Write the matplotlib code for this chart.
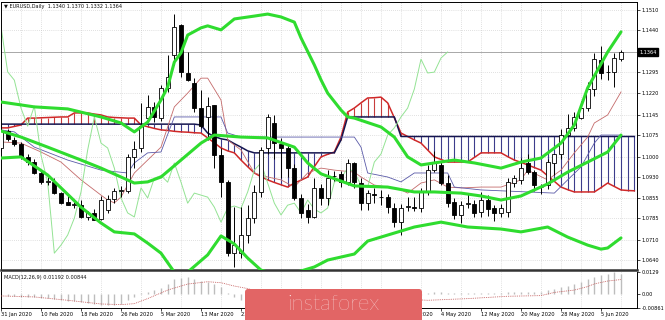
import matplotlib
matplotlib.use("Agg")
import matplotlib.pyplot as plt
from matplotlib.patches import FancyBboxPatch

plt.rcParams["font.family"] = ["DejaVu Sans"]

# EURUSD daily candles, 31 Jan 2020 .. 10 Jun 2020 (one entry per bar)
opens = [1.1030, 1.1088, 1.1058, 1.1044, 1.0998, 1.0981, 1.0944, 1.0910, 1.0913, 1.0873,
         1.0841, 1.0833, 1.0831, 1.0790, 1.0804, 1.0783, 1.0815, 1.0852, 1.0880, 1.0880,
         1.0998, 1.1030, 1.1134, 1.1172, 1.1135, 1.1239, 1.1353, 1.1458, 1.1292, 1.1256,
         1.1169, 1.1138, 1.1179, 1.1005, 1.0911, 1.0664, 1.0664, 1.0727, 1.0786, 1.0877,
         1.1030, 1.1117, 1.1043, 1.1030, 1.0960, 1.0856, 1.0814, 1.0790, 1.0891, 1.0856,
         1.0932, 1.0939, 1.0911, 1.0978, 1.0908, 1.0838, 1.0870, 1.0859, 1.0859, 1.0821,
         1.0772, 1.0824, 1.0825, 1.0821, 1.0877, 1.0953, 1.0971, 1.0908, 1.0842, 1.0797,
         1.0835, 1.0835, 1.0807, 1.0849, 1.0821, 1.0804, 1.0807, 1.0908, 1.0918, 1.0978,
         1.0946, 1.0895, 1.0901, 1.0978, 1.1009, 1.1075, 1.1100, 1.1134, 1.1169, 1.1235,
         1.1336, 1.1294, 1.1294, 1.1340]
highs = [1.1096, 1.1095, 1.1067, 1.1052, 1.1010, 1.0990, 1.0950, 1.0930, 1.0924, 1.0877,
         1.0862, 1.0841, 1.0848, 1.0812, 1.0817, 1.0863, 1.0868, 1.0891, 1.0898, 1.1010,
         1.1053, 1.1185, 1.1214, 1.1189, 1.1248, 1.1355, 1.1496, 1.1460, 1.1365, 1.1273,
         1.1232, 1.1207, 1.1180, 1.1030, 1.0920, 1.0824, 1.0824, 1.0830, 1.0900, 1.1035,
         1.1147, 1.1145, 1.1065, 1.1045, 1.0975, 1.0870, 1.0835, 1.0925, 1.0905, 1.0953,
         1.0950, 1.0950, 1.0990, 1.0980, 1.0925, 1.0885, 1.0890, 1.0885, 1.0870, 1.0840,
         1.0835, 1.0860, 1.0858, 1.0890, 1.0972, 1.1019, 1.0985, 1.0935, 1.0855, 1.0845,
         1.0875, 1.0850, 1.0877, 1.0865, 1.0832, 1.0835, 1.0925, 1.0935, 1.0995, 1.1010,
         1.0955, 1.0905, 1.0990, 1.1010, 1.1095, 1.1147, 1.1155, 1.1195, 1.1258, 1.1361,
         1.1384, 1.1320, 1.1360, 1.1370]
lows = [1.1019, 1.1056, 1.1038, 1.0993, 1.0972, 1.0941, 1.0905, 1.0900, 1.0870, 1.0835,
        1.0830, 1.0822, 1.0788, 1.0781, 1.0778, 1.0780, 1.0805, 1.0840, 1.0860, 1.0875,
        1.0960, 1.1015, 1.1120, 1.1120, 1.1125, 1.1225, 1.1320, 1.1278, 1.1262, 1.1155,
        1.1100, 1.1058, 1.0960, 1.0859, 1.0655, 1.0616, 1.0647, 1.0700, 1.0770, 1.0860,
        1.1010, 1.0990, 1.0925, 1.0930, 1.0850, 1.0785, 1.0770, 1.0785, 1.0830, 1.0830,
        1.0915, 1.0895, 1.0900, 1.0890, 1.0815, 1.0815, 1.0840, 1.0830, 1.0805, 1.0755,
        1.0728, 1.0810, 1.0810, 1.0808, 1.0865, 1.0945, 1.0900, 1.0825, 1.0782, 1.0770,
        1.0820, 1.0790, 1.0790, 1.0795, 1.0775, 1.0790, 1.0790, 1.0895, 1.0905, 1.0940,
        1.0880, 1.0870, 1.0886, 1.0935, 1.0990, 1.1070, 1.1090, 1.1130, 1.1160, 1.1210,
        1.1270, 1.1265, 1.1242, 1.1332]
closes = [1.1088, 1.1060, 1.1044, 1.0998, 1.0981, 1.0944, 1.0911, 1.0914, 1.0873, 1.0839,
          1.0831, 1.0836, 1.0790, 1.0804, 1.0780, 1.0849, 1.0852, 1.0880, 1.0884, 1.0998,
          1.1026, 1.1106, 1.1172, 1.1138, 1.1240, 1.1277, 1.1452, 1.1295, 1.1266, 1.1169,
          1.1106, 1.1176, 1.1005, 1.0911, 1.0664, 1.0692, 1.0727, 1.0786, 1.0877, 1.1023,
          1.1138, 1.1047, 1.1030, 1.0960, 1.0856, 1.0804, 1.0790, 1.0891, 1.0856, 1.0925,
          1.0934, 1.0911, 1.0978, 1.0911, 1.0838, 1.0873, 1.0866, 1.0859, 1.0824, 1.0772,
          1.0821, 1.0828, 1.0820, 1.0877, 1.0953, 1.0978, 1.0908, 1.0838, 1.0797, 1.0831,
          1.0838, 1.0804, 1.0849, 1.0817, 1.0804, 1.0821, 1.0911, 1.0925, 1.0960, 1.0946,
          1.0901, 1.0894, 1.0981, 1.1009, 1.1075, 1.1100, 1.1138, 1.1169, 1.1235, 1.1339,
          1.1291, 1.1294, 1.1343, 1.1364]

# date labels that are not hidden behind the watermark
date_bars = [0, 6, 12, 18, 24, 30, 36, 60, 66, 72, 78, 84, 90]
date_labels = ["31 Jan 2020", "10 Feb 2020", "18 Feb 2020", "26 Feb 2020", "5 Mar 2020",
               "13 Mar 2020", "23 Mar 2020", "24 Apr 2020", "4 May 2020", "12 May 2020",
               "20 May 2020", "28 May 2020", "5 Jun 2020"]
price_ticks = [1.1510, 1.1440, 1.1295, 1.1220, 1.1145, 1.1075, 1.1000,
               1.0930, 1.0855, 1.0785, 1.0710, 1.0640]

bb_upper_bars = [0, 5, 10, 15, 18, 20, 22, 24, 25, 26, 27, 28, 30, 31, 33, 35, 38, 40, 42, 44,
                 45, 47, 48, 49, 51, 52, 53, 57, 59, 61, 63, 65, 68, 71, 75, 78, 81, 84, 86,
                 88, 91, 93]
bb_upper = [1.1190, 1.1173, 1.1166, 1.1138, 1.1117, 1.1086, 1.1120, 1.1197, 1.1242, 1.1329,
            1.1361, 1.1423, 1.1448, 1.1455, 1.1441, 1.1479, 1.1489, 1.1496, 1.1486, 1.1468,
            1.1413, 1.1319, 1.1267, 1.1221, 1.1162, 1.1138, 1.1134, 1.1103, 1.1068, 1.0999,
            1.0971, 1.0978, 1.0988, 1.0978, 1.0960, 1.0981, 1.0995, 1.1047, 1.1110, 1.1239,
            1.1364, 1.1434]
bb_mid_bars = [0, 3, 7, 12, 15, 18, 20, 22, 24, 27, 30, 32, 36, 40, 44, 46, 48, 53, 58, 62,
               65, 69, 72, 75, 78, 82, 85, 88, 91, 93]
bb_mid = [1.1089, 1.1068, 1.1033, 1.0988, 1.0960, 1.0929, 1.0908, 1.0912, 1.0929, 1.0988,
          1.1047, 1.1075, 1.1068, 1.1065, 1.1033, 1.0978, 1.0940, 1.0898, 1.0894, 1.0877,
          1.0877, 1.0873, 1.0863, 1.0849, 1.0863, 1.0905, 1.0946, 1.0981, 1.1016, 1.1075]
bb_lower_bars = [0, 3, 7, 12, 15, 17, 20, 22, 24, 26, 27, 28, 31, 33, 35, 37, 39, 42, 45, 47,
                 49, 53, 55, 59, 62, 66, 70, 75, 78, 82, 85, 88, 90, 91, 93]
bb_lower = [1.0995, 1.0999, 1.0936, 1.0824, 1.0769, 1.0738, 1.0731, 1.0699, 1.0664, 1.0598,
            1.0553, 1.0598, 1.0658, 1.0724, 1.0696, 1.0647, 1.0605, 1.0585, 1.0602, 1.0616,
            1.0640, 1.0661, 1.0706, 1.0734, 1.0755, 1.0772, 1.0755, 1.0748, 1.0738, 1.0755,
            1.0720, 1.0692, 1.0678, 1.0682, 1.0717]

# Ichimoku lines
tenkan_bars = [0, 3, 6, 9, 12, 15, 16, 17, 18, 20, 22, 24, 26, 28, 30, 31, 33, 34, 36, 38,
               40, 42, 44, 46, 48, 50, 53, 54, 56, 58, 60, 61, 63, 65, 67, 69, 72, 75, 78,
               79, 82, 84, 86, 88, 89, 91, 93]
tenkan = [1.1051, 1.1047, 1.1016, 1.0981, 1.0919, 1.0866, 1.0849, 1.0839, 1.0859, 1.0943,
          1.0988, 1.1033, 1.1173, 1.1221, 1.1273, 1.1273, 1.1197, 1.1058, 1.1023, 1.0943,
          1.0929, 1.0919, 1.0894, 1.0943, 1.0960, 1.0953, 1.0946, 1.0929, 1.0901, 1.0894,
          1.0884, 1.0873, 1.0908, 1.0919, 1.0894, 1.0891, 1.0894, 1.0894, 1.0919, 1.0953,
          1.0919, 1.0953, 1.1013, 1.1068, 1.1117, 1.1145, 1.1225]
kijun_bars = [0, 2, 5, 10, 15, 19, 20, 22, 24, 26, 33, 34, 36, 53, 54, 55, 58, 60, 62, 67,
              68, 72, 83, 85, 87, 89, 90, 93]
kijun = [1.1093, 1.1086, 1.1033, 1.0988, 1.0953, 1.0943, 1.0978, 1.1013, 1.1016, 1.1138,
         1.1138, 1.1082, 1.1068, 1.1068, 1.1033, 1.0943, 1.0929, 1.0912, 1.0943, 1.0943,
         1.0894, 1.0884, 1.0873, 1.0919, 1.0964, 1.1047, 1.1075, 1.1075]
# cloud spans, one value per bar 0..95
span_a = [1.1100, 1.1100, 1.1105, 1.1110, 1.1134, 1.1134, 1.1135, 1.1136, 1.1137, 1.1138,
          1.1138, 1.1152, 1.1152, 1.1152, 1.1148, 1.1145, 1.1138, 1.1136, 1.1135, 1.1134,
          1.1134, 1.1110, 1.1104, 1.1098, 1.1093, 1.1091, 1.1088, 1.1086, 1.1085, 1.1083,
          1.1082, 1.1065, 1.1048, 1.1030, 1.1020, 1.1013, 1.0988, 1.0965, 1.0943, 1.0930,
          1.0919, 1.0910, 1.0902, 1.0894, 1.0908, 1.0918, 1.0929, 1.0965, 1.0999, 1.1008,
          1.1016, 1.1068, 1.1155, 1.1169, 1.1187, 1.1204, 1.1205, 1.1207, 1.1187, 1.1135,
          1.1082, 1.1070, 1.1058, 1.1047, 1.1023, 1.0999, 1.0990, 1.0981, 1.0981, 1.0981,
          1.0981, 1.0997, 1.1013, 1.1013, 1.1013, 1.1013, 1.1000, 1.0988, 1.0980, 1.0971,
          1.0962, 1.0953, 1.0933, 1.0914, 1.0894, 1.0885, 1.0877, 1.0877, 1.0877, 1.0877,
          1.0892, 1.0908, 1.0896, 1.0884, 1.0882, 1.0881]
span_b = ([1.1113] * 30
          + [1.1110, 1.1082, 1.1070, 1.1062, 1.1058, 1.1045, 1.1033, 1.1020]
          + [1.1013] * 13 + [1.1058] + [1.1138] * 8 + [1.1070] * 36)

# MACD(12,26,9)
macd_main = [-0.0012, -0.0013, -0.0015, -0.0018, -0.0020, -0.0023, -0.0026, -0.0029, -0.0033, -0.0038,
             -0.0042, -0.0046, -0.0051, -0.0055, -0.0060, -0.0066, -0.0071, -0.0070, -0.0062, -0.0038,
             -0.0018, 0.0004, 0.0012, 0.0020, 0.0036, 0.0060, 0.0088, 0.0096, 0.0098, 0.0090,
             0.0078, 0.0070, 0.0058, 0.0038, 0.0006, -0.0020, -0.0040, -0.0060, -0.0075, -0.0082,
             -0.0086, -0.0080, -0.0070, -0.0060, -0.0052, -0.0048, -0.0044, -0.0040, -0.0036, -0.0032,
             -0.0028, -0.0026, -0.0022, -0.0020, -0.0020, -0.0018, -0.0017, -0.0016, -0.0016, -0.0017,
             -0.0016, -0.0015, -0.0013, -0.0010, 0.0006, 0.0008, 0.0007, 0.0006, 0.0005, 0.0006,
             0.0005, 0.0005, 0.0006, 0.0005, 0.0005, 0.0006, 0.0007, 0.0008, 0.0009, 0.0010,
             0.0008, 0.0012, 0.0020, 0.0030, 0.0040, 0.0048, 0.0060, 0.0072, 0.0086, 0.0100,
             0.0110, 0.0118, 0.0129, 0.0119]
signal_bars = [0, 5, 10, 15, 18, 20, 22, 25, 28, 31, 33, 35, 37, 40, 45, 50, 55, 60, 64, 70,
               76, 81, 83, 86, 88, 89, 91, 93]
macd_signal = [-0.0014, -0.0020, -0.0040, -0.0062, -0.0066, -0.0060, -0.0030, 0.0021, 0.0057, 0.0071,
               0.0065, 0.0045, 0.0030, -0.0005, -0.0040, -0.0045, -0.0038, -0.0032, -0.0040, -0.0030,
               -0.0016, -0.0012, 0.0007, 0.0021, 0.0042, 0.0058, 0.0075, 0.0084]

W, H = 665, 320
grid_kw = dict(color="#c4c4c4", lw=0.5, ls=(0, (1, 2)))

fig = plt.figure(figsize=(W / 100, H / 100), dpi=100)
ax = fig.add_axes([1 / W, 50 / H, 636 / W, 268 / H])
ax2 = fig.add_axes([1 / W, 12 / H, 636 / W, 36 / H])

n = len(closes)
bars = list(range(n))
x_max = 95.4

# ---- main panel ----
ax.set_xlim(0, x_max)
ax.set_ylim(1.06054, 1.15380)
ax.set_xticks(range(0, 96, 3))
ax.set_yticks(price_ticks)
ax.grid(True, **grid_kw)
ax.set_axisbelow(True)

# cloud hatch and spans
cloud_bars = list(range(len(span_a)))
hatch_colors = ["#c83c3c" if a > b else "#3c3c8c" for a, b in zip(span_a, span_b)]
ax.vlines(cloud_bars, span_a, span_b, colors=hatch_colors, lw=0.8, zorder=1)
ax.plot(cloud_bars, span_a, color="#d02828", lw=1.1, zorder=1.5)
ax.plot(cloud_bars, span_b, color="#15154f", lw=1.1, zorder=1.5)

ax.plot(tenkan_bars, tenkan, color="#c46a6a", lw=0.6, zorder=2)
ax.plot(kijun_bars, kijun, color="#5a5aa8", lw=0.6, zorder=2)
ax.plot(bars[: n - 26], closes[26:], color="#94e394", lw=0.7, zorder=2)

# candles
ax.vlines(bars, lows, highs, color="black", lw=0.7, zorder=3)
body_low = [min(o, c) for o, c in zip(opens, closes)]
body_h = [max(abs(c - o), 0.00004) for o, c in zip(opens, closes)]
body_c = ["white" if c >= o else "black" for o, c in zip(opens, closes)]
ax.bar(bars, body_h, bottom=body_low, width=0.62, color=body_c,
       edgecolor="black", linewidth=0.6, zorder=3.1)

# bid line
ax.axhline(closes[-1], color="#9a9a9a", lw=0.6, zorder=1.2)

# Bollinger bands on top
bb_green = "#2fdc2f"
for bx, by in ((bb_upper_bars, bb_upper), (bb_mid_bars, bb_mid), (bb_lower_bars, bb_lower)):
    ax.plot(bx, by, color=bb_green, lw=2.2, zorder=4, solid_capstyle="round")

ax.yaxis.tick_right()
ax.tick_params(axis="x", length=0, labelbottom=False)
ax.tick_params(axis="y", length=2, width=0.5, pad=1.5, labelsize=3.6)
ax.set_yticklabels([f"{t:.4f}" for t in price_ticks])
for s in ax.spines.values():
    s.set_linewidth(0.7)
ax.spines["bottom"].set_linewidth(1.8)
ax.spines["bottom"].set_color("#333333")

ax.annotate(f"{closes[-1]:.4f}", xy=(1, closes[-1]), xycoords=("axes fraction", "data"),
            xytext=(1.6, 0), textcoords="offset points", va="center", ha="left",
            fontsize=3.6, color="white",
            bbox=dict(boxstyle="square,pad=0.25", fc="black", ec="black"))

ax.text(0.004, 0.992,
        f"\u25bc EURUSD,Daily  {opens[-1]:.4f} {highs[-1]:.4f} {lows[-1]:.4f} {closes[-1]:.4f}",
        transform=ax.transAxes, fontsize=3.6, va="top", ha="left", color="#111111")

# ---- MACD panel ----
ax2.set_xlim(0, x_max)
ax2.set_ylim(-0.00861, 0.0129)
ax2.vlines(bars, 0, macd_main, color="#bdbdbd", lw=1.0, zorder=2)
ax2.plot(signal_bars, macd_signal, color="#c05050", lw=0.6, ls=(0, (1, 1.2)), zorder=3)
ax2.set_xticks(range(0, 96, 3), minor=True)
ax2.grid(True, which="minor", axis="x", **grid_kw)
ax2.set_axisbelow(True)
ax2.set_xticks(date_bars)
ax2.set_xticklabels(date_labels)
for lbl in ax2.get_xticklabels():
    lbl.set_ha("left")
ax2.tick_params(axis="x", which="major", length=2, width=0.5, pad=1, labelsize=3.7)
ax2.tick_params(axis="x", which="minor", length=0)
ax2.yaxis.tick_right()
ax2.set_yticks([0.0129, 0.0, -0.00861])
ax2.set_yticklabels(["0.0129", "0.00", "-0.00861"])
ax2.tick_params(axis="y", length=2, width=0.5, pad=1.5, labelsize=3.6)
for s in ax2.spines.values():
    s.set_linewidth(0.7)
ax2.spines["top"].set_visible(False)
ax2.text(0.004, 0.93, "MACD(12,26,9) 0.01192 0.00844", transform=ax2.transAxes,
         fontsize=3.6, va="top", ha="left", color="#111111")

# ---- watermark ----
wm = fig.add_axes([0, 0, 1, 1], zorder=10)
wm.set_xlim(0, W)
wm.set_ylim(H, 0)
wm.axis("off")
wm.add_patch(FancyBboxPatch((245, 289), 177, 40, boxstyle="round,pad=0,rounding_size=3",
                            fc="#e26565", ec="none"))
wm.text(333, 304, "instaforex", color="white", fontsize=16, ha="center", va="center",
        family=["Lato", "DejaVu Sans"], fontweight="light")

fig.savefig("out.png", dpi=100)
